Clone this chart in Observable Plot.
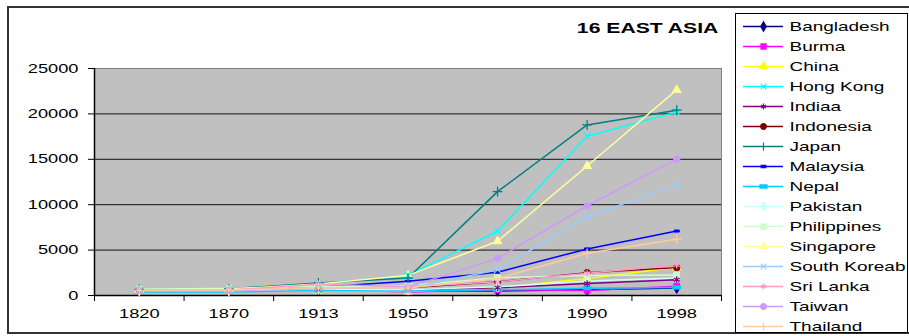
<!DOCTYPE html>
<html><head><meta charset="utf-8">
<script src="https://cdn.jsdelivr.net/npm/d3@7"></script>
<script src="https://cdn.jsdelivr.net/npm/@observablehq/plot@0.6"></script>
<style>
body{margin:0;background:#fff;}
#wrap{position:relative;width:909px;height:336px;overflow:hidden;font-family:"Liberation Sans",Arial,sans-serif;}
#border{position:absolute;left:7px;top:6px;width:940px;height:328px;border:2px solid #333;box-sizing:border-box;}
#chart{position:absolute;left:0;top:0;}
#title{position:absolute;right:191px;top:20px;font-size:15px;line-height:15px;font-weight:bold;white-space:nowrap;transform-origin:right center;transform:scaleX(1.41);}
#legend{position:absolute;left:735px;top:13px;width:173px;height:320px;border:1px solid #000;box-sizing:border-box;background:#fff;}
</style>
</head><body>
<div id="wrap">
  <div id="border"></div>
  <div id="chart"></div>
  <div id="title">16 EAST ASIA</div>
  <div id="legend"></div>
</div>
<script>
const years = ["1820","1870","1913","1950","1973","1990","1998"];
const countries = ["Bangladesh","Burma","China","Hong Kong","Indiaa","Indonesia","Japan","Malaysia","Nepal","Pakistan","Philippines","Singapore","South Koreab","Sri Lanka","Taiwan","Thailand"];
const colors = ["#000080","#FF00FF","#FFFF00","#00FFFF","#800080","#800000","#008080","#0000FF","#00CCFF","#CCFFFF","#CCFFCC","#FFFF99","#99CCFF","#FF99CC","#CC99FF","#FFCC99"];
const yTicks = [0,5000,10000,15000,20000,25000];

const bangladesh  = [533, 533, 617, 540, 497, 640, 813];
const burma       = [504, 504, 685, 396, 628, 564, 1024];
const china       = [600, 530, 552, 439, 839, 1871, 3117];
const hongKong    = [615, 683, 1279, 2218, 7104, 17541, 20193];
const india       = [533, 533, 673, 619, 853, 1309, 1746];
const indonesia   = [612, 654, 904, 840, 1504, 2516, 3070];
const japan       = [669, 737, 1387, 1926, 11439, 18789, 20413];
const malaysia    = [603, 663, 900, 1559, 2560, 5131, 7100];
const nepal       = [397, 397, 539, 496, 622, 808, 890];
const pakistan    = [533, 533, 707, 643, 954, 1589, 1935];
const philippines = [704, 776, 988, 1070, 1959, 2199, 2268];
const singapore   = [600, 682, 1279, 2219, 5977, 14258, 22643];
const southKorea  = [600, 604, 869, 770, 2841, 8704, 12152];
const sriLanka    = [550, 600, 1234, 961, 1504, 2448, 3349];
const taiwan      = [550, 550, 747, 924, 4091, 9886, 15012];
const thailand    = [570, 608, 841, 817, 1874, 4645, 6205];

const series = [bangladesh, burma, china, hongKong, india, indonesia, japan, malaysia, nepal, pakistan, philippines, singapore, southKorea, sriLanka, taiwan, thailand];

// custom dash symbols (Excel-style)
const dashShort = {draw(ctx, size){ const w = Math.sqrt(size)*0.9, h = 2; ctx.rect(-w/2, -h/2, w, h);} };
const dashLong  = {draw(ctx, size){ const w = Math.sqrt(size)*1.4, h = 3; ctx.rect(-w/2, -h/2, w, h);} };
const symbols = ["diamond","square","triangle","times","asterisk","circle","plus",dashShort,dashLong,"diamond","square","triangle","times","asterisk","circle","plus"];
const filled = new Set(["Bangladesh","Burma","China","Indonesia","Malaysia","Nepal","Pakistan","Philippines","Singapore","Taiwan"]);

const rows = [];
countries.forEach((c, k) => series[k].forEach((v, i) => rows.push({country: c, i, year: years[i], value: v})));

const colorScale = {domain: countries, range: colors};
const symbolScale = {domain: countries, range: symbols};

const chart = Plot.plot({
  width: 730, height: 336,
  marginLeft: 94, marginRight: 9, marginTop: 68, marginBottom: 41,
  style: {fontFamily: "Liberation Sans, Arial, sans-serif", fontSize: "12.5px", background: "transparent", color: "#000"},
  x: {type: "linear", domain: [0, years.length]},
  y: {domain: [0, 25000]},
  color: colorScale,
  symbol: symbolScale,
  marks: [
    Plot.frame({fill: "#C0C0C0", stroke: "#808080"}),
    Plot.ruleY(yTicks.slice(1, -1), {stroke: "#111"}),
    Plot.axisY({ticks: yTicks, tickSize: 6, tickPadding: 10, tickFormat: d3.format("d"), label: null, stroke: "#000"}),
    Plot.axisX({ticks: d3.range(years.length + 1), tickSize: 6, tickFormat: () => "", label: null, stroke: "#000"}),
    Plot.axisX({ticks: years.map((y, i) => i + 0.5), tickSize: 0, tickPadding: 14, tickFormat: d => years[Math.floor(d)], label: null}),
    Plot.ruleX([0], {stroke: "#000", strokeWidth: 1.5}),
    Plot.ruleY([0], {stroke: "#000", strokeWidth: 1.5}),
    Plot.line(rows, {x: d => d.i + 0.5, y: "value", z: "country", stroke: "country", strokeWidth: 1.5}),
    Plot.dot(rows.filter(d => filled.has(d.country)), {x: d => d.i + 0.5, y: "value", symbol: "country", fill: "country", stroke: "country", r: 3.2, strokeWidth: 1}),
    Plot.dot(rows.filter(d => !filled.has(d.country)), {x: d => d.i + 0.5, y: "value", symbol: "country", stroke: "country", fill: "none", r: 3.2, strokeWidth: 1.3})
  ]
});
document.getElementById("chart").appendChild(chart);

const legendRows = countries.map(c => ({country: c}));
const legend = Plot.plot({
  width: 171, height: 318,
  margin: 0,
  style: {fontFamily: "Liberation Sans, Arial, sans-serif", fontSize: "13px", background: "transparent", color: "#000"},
  x: {type: "linear", domain: [0, 1], range: [7, 47], axis: null},
  y: {type: "point", domain: countries, range: [11.5, 311.5], padding: 0, axis: null},
  color: colorScale,
  symbol: symbolScale,
  marks: [
    Plot.ruleY(legendRows, {y: "country", x1: 0, x2: 1, stroke: "country", strokeWidth: 1.3}),
    Plot.dot(legendRows.filter(d => filled.has(d.country)), {x: 0.5, y: "country", symbol: "country", fill: "country", stroke: "country", r: 2.7}),
    Plot.dot(legendRows.filter(d => !filled.has(d.country)), {x: 0.5, y: "country", symbol: "country", stroke: "country", fill: "none", r: 2.7, strokeWidth: 1.2}),
    Plot.text(legendRows, {x: 1, y: "country", text: "country", textAnchor: "start", dx: 6, fill: "#000", fontSize: 13})
  ]
});
document.getElementById("legend").appendChild(legend);

// Horizontally stretch text like the reference (stretched Excel chart):
// append a scale about each text's anchor point to its own transform.
function stretch(svg, k){
  d3.select(svg).selectAll("text").each(function(){
    const t = this.getAttribute("transform") || "";
    const xs = this.getAttribute("x");
    let dx = 0;
    if (xs !== null && isFinite(+xs)) { dx = +xs; this.removeAttribute("x"); }
    this.setAttribute("transform", `${t} translate(${dx},0) scale(${k},1)`);
  });
}
stretch(chart, 1.46);
stretch(legend, 1.46);
</script>
</body></html>
